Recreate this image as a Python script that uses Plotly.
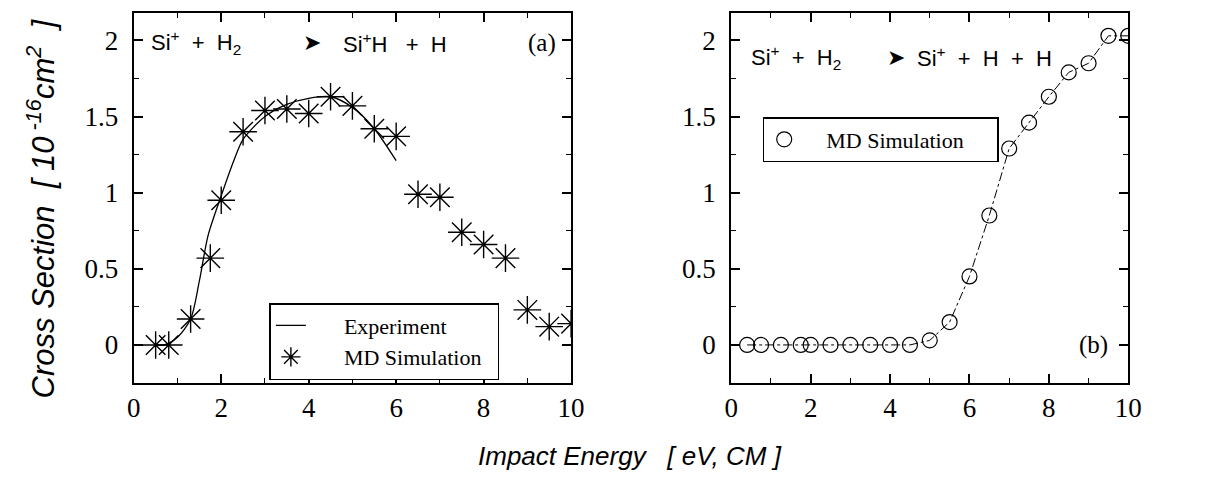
import plotly.graph_objects as go

# ---- data ----
md_a_x = [0.5, 0.8, 1.3, 1.75, 2.0, 2.5, 3.0, 3.5, 4.0, 4.5, 5.0, 5.5, 6.0, 6.5, 7.0, 7.5, 8.0, 8.5, 9.0, 9.5, 10.0]
md_a_y = [0.0, 0.0, 0.17, 0.57, 0.95, 1.40, 1.54, 1.55, 1.52, 1.63, 1.57, 1.42, 1.37, 0.99, 0.97, 0.74, 0.66, 0.57, 0.23, 0.12, 0.14]

exp_x = [0.5, 0.7, 1.0, 1.3, 1.5, 1.7, 2.0, 2.3, 2.5, 3.0, 3.5, 4.0, 4.5, 5.0, 5.5, 6.0]
exp_y = [0.0, 0.0, 0.05, 0.17, 0.42, 0.72, 0.98, 1.22, 1.35, 1.50, 1.58, 1.62, 1.63, 1.56, 1.42, 1.21]

md_b_x = [0.4, 0.75, 1.25, 1.75, 2.0, 2.5, 3.0, 3.5, 4.0, 4.5, 5.0, 5.5, 6.0, 6.5, 7.0, 7.5, 8.0, 8.5, 9.0, 9.5, 10.0]
md_b_y = [0.0, 0.0, 0.0, 0.0, 0.0, 0.0, 0.0, 0.0, 0.0, 0.0, 0.03, 0.15, 0.45, 0.85, 1.29, 1.46, 1.63, 1.79, 1.85, 2.03, 2.03]

x_ticks = [0, 2, 4, 6, 8, 10]
y_ticks = [0, 0.5, 1, 1.5, 2]
y_tick_text = ["0", "0.5", "1", "1.5", "2"]

W, H = 1215, 479
def px(x):
    return x / W
def py(y):
    return 1 - y / H

serif = "Liberation Serif, Times New Roman, serif"
sans = "Liberation Sans, Arial, sans-serif"
NB = "&nbsp;"

fig = go.Figure()

fig.add_trace(go.Scatter(
    x=exp_x, y=exp_y, mode="lines", name=NB * 6 + "Experiment",
    line=dict(color="black", width=1.3, shape="spline", smoothing=0.8),
    xaxis="x", yaxis="y", legend="legend"))
fig.add_trace(go.Scatter(
    x=md_a_x, y=md_a_y, mode="markers", name=NB * 6 + "MD Simulation" + NB * 2,
    marker=dict(symbol="asterisk-open", size=23, color="black", line=dict(color="black", width=1.4)),
    xaxis="x", yaxis="y", legend="legend"))

fig.add_trace(go.Scatter(
    x=md_b_x, y=md_b_y, mode="lines", showlegend=False,
    line=dict(color="black", width=1, dash="dashdot"),
    xaxis="x2", yaxis="y2"))
fig.add_trace(go.Scatter(
    x=md_b_x, y=md_b_y, mode="markers", name=NB * 4 + "MD Simulation" + NB * 5,
    marker=dict(symbol="circle-open", size=15, color="black", line=dict(color="black", width=1.2)),
    xaxis="x2", yaxis="y2", legend="legend2"))

axis_common = dict(
    showline=True, linecolor="black", linewidth=2, mirror="ticks",
    ticks="inside", ticklen=9, tickwidth=1.5, tickcolor="black",
    showgrid=False, zeroline=False,
    tickfont=dict(family=serif, size=27, color="black"),
)

xdom1 = [px(129), px(574)]
xdom2 = [px(737), px(1141)]
ydom = [py(383), py(13)]

fig.update_layout(
    width=W, height=H,
    margin=dict(l=0, r=0, t=0, b=0),
    paper_bgcolor="white", plot_bgcolor="white",
    xaxis=dict(domain=xdom1, range=[0, 10], tickvals=x_ticks, anchor="y",
               minor=dict(ticks="inside", ticklen=5, tickwidth=1.2, dtick=1, tickcolor="black"),
               **axis_common),
    yaxis=dict(domain=ydom, range=[-0.25, 2.18], tickvals=y_ticks, ticktext=y_tick_text, anchor="x",
               ticklabelstandoff=8,
               minor=dict(ticks="inside", ticklen=5, tickwidth=1.2, dtick=0.25, tick0=0, tickcolor="black"),
               **axis_common),
    xaxis2=dict(domain=xdom2, range=[0, 10], tickvals=x_ticks, anchor="y2",
                minor=dict(ticks="inside", ticklen=5, tickwidth=1.2, dtick=1, tickcolor="black"),
                **axis_common),
    yaxis2=dict(domain=ydom, range=[-0.25, 2.18], tickvals=y_ticks, ticktext=y_tick_text, anchor="x2",
                ticklabelstandoff=8,
                minor=dict(ticks="inside", ticklen=5, tickwidth=1.2, dtick=0.25, tick0=0, tickcolor="black"),
                **axis_common),
    legend=dict(x=px(267), y=py(303), xanchor="left", yanchor="top",
                bgcolor="white", bordercolor="black", borderwidth=1.5,
                font=dict(family=serif, size=22, color="black"),
                itemwidth=30, tracegroupgap=0),
    legend2=dict(x=px(769), y=py(117), xanchor="left", yanchor="top",
                 bgcolor="white", bordercolor="black", borderwidth=1.5,
                 font=dict(family=serif, size=22, color="black"),
                 itemwidth=30),
    showlegend=True,
)

ann = []
rf = dict(family=sans, size=22, color="black")
arrow_font = dict(family="DejaVu Sans", size=22, color="black")
# left reaction
ann.append(dict(xref="paper", yref="paper", x=px(144), y=py(43), xanchor="left", yanchor="middle",
                text="Si<sup>+</sup>" + NB * 2 + "+" + NB * 2 + "H<sub>2</sub>", showarrow=False, font=rf))
ann.append(dict(xref="paper", yref="paper", x=px(299), y=py(43), xanchor="left", yanchor="middle",
                text="➤", showarrow=False, font=arrow_font))
ann.append(dict(xref="paper", yref="paper", x=px(340), y=py(43), xanchor="left", yanchor="middle",
                text="Si<sup>+</sup>H" + NB * 3 + "+" + NB * 2 + "H", showarrow=False, font=rf))
ann.append(dict(xref="paper", yref="paper", x=px(561), y=py(43), xanchor="right", yanchor="middle",
                text="(a)", showarrow=False, font=dict(family=serif, size=25, color="black")))
# right reaction
ann.append(dict(xref="paper", yref="paper", x=px(755), y=py(57), xanchor="left", yanchor="middle",
                text="Si<sup>+</sup>" + NB * 2 + "+" + NB * 2 + "H<sub>2</sub>", showarrow=False, font=rf))
ann.append(dict(xref="paper", yref="paper", x=px(893), y=py(57), xanchor="left", yanchor="middle",
                text="➤", showarrow=False, font=arrow_font))
ann.append(dict(xref="paper", yref="paper", x=px(924), y=py(57), xanchor="left", yanchor="middle",
                text="Si<sup>+</sup>" + NB * 2 + "+" + NB * 2 + "H" + NB * 2 + "+" + NB * 2 + "H",
                showarrow=False, font=rf))
ann.append(dict(xref="paper", yref="paper", x=px(1122), y=py(345), xanchor="right", yanchor="middle",
                text="(b)", showarrow=False, font=dict(family=serif, size=25, color="black")))
# axis titles
ann.append(dict(xref="paper", yref="paper", x=px(634), y=py(456), xanchor="center", yanchor="middle",
                text="<i>Impact Energy" + NB * 3 + "[ eV, CM ]</i>", showarrow=False,
                font=dict(family=sans, size=26, color="black")))
ann.append(dict(xref="paper", yref="paper", x=px(35), y=py(208), xanchor="center", yanchor="middle",
                textangle=-90,
                text="<i>Cross Section" + NB * 2 + "[ 10<sup> -16</sup>cm<sup>2</sup>" + NB * 2 + "]</i>",
                showarrow=False, font=dict(family=sans, size=31, color="black")))
fig.update_layout(annotations=ann)

fig.write_html("out.html",
               config={"displayModeBar": False},
               post_script="document.body.style.margin='0';document.body.style.overflow='hidden';")
